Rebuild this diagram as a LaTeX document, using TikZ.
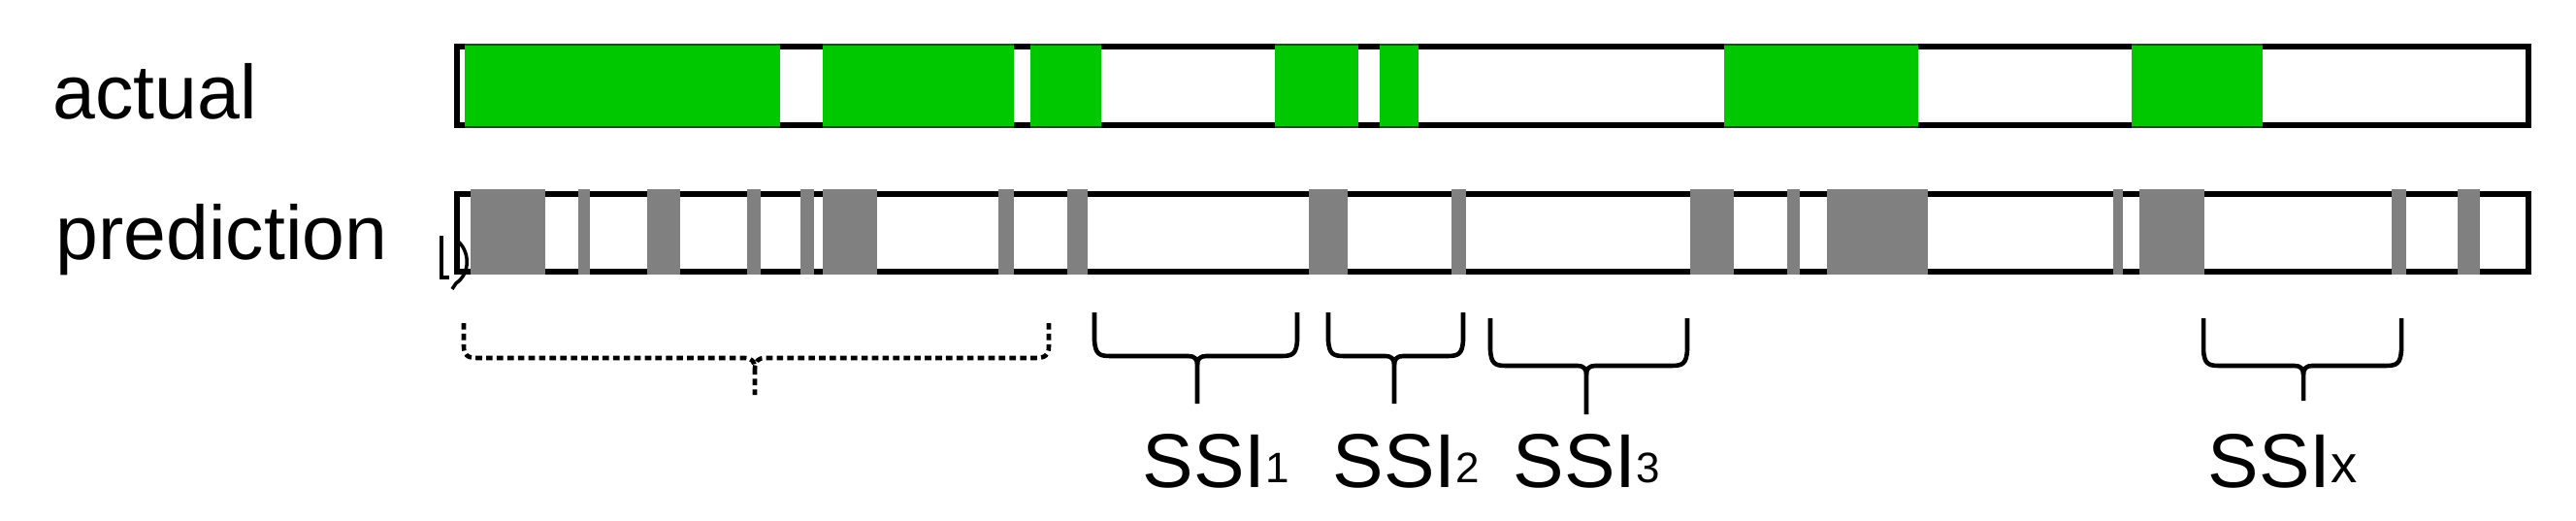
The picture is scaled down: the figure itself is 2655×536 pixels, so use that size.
\documentclass[tikz,border=0pt]{standalone}
\usepackage{fontspec}
\setmainfont{Liberation Sans}
\usetikzlibrary{positioning}

\definecolor{hitgreen}{RGB}{0,200,0}
\definecolor{hitedge}{RGB}{0,95,0}
\definecolor{callgray}{RGB}{128,128,128}

\newcommand{\siteidx}[2][12.5]{{\fontsize{#1}{#1}\selectfont\raisebox{1.2pt}{#2}}}

\begin{document}
\begin{tikzpicture}[x=0.01cm, y=-0.01cm,
    track/.style={draw=black, line width=1.6pt, fill=white},
    rowlabel/.style={anchor=base west, inner sep=0, font=\fontsize{22.4}{26}\selectfont},
    bracket/.style={line width=1.3pt, line join=round}]
    \useasboundingbox (0,0) rectangle (2655,536);

    % row labels
    \node[rowlabel] (actual) at (54,122) {actual};
    \node[rowlabel] (prediction) at (57,267) {prediction};

    % the two tracks
    \draw[track] (471,48) rectangle (2606,129);
    \draw[track] (471,200) rectangle (2606,280);

    % actual sites
    \foreach \a/\b in {479/804, 848/1045, 1062/1135, 1314/1400, 1422/1462, 1777/1977, 2197/2332} {
        \fill[hitgreen] (\a,45) rectangle (\b,132);
        \draw[hitedge, line width=0.6pt] (\a,46) -- (\b,46) (\a,131) -- (\b,131);
    }

    % predicted sites
    \foreach \a/\b in {485/562, 596/608, 667/701, 770/784, 825/839, 848/904, 1029/1045, 1100/1121,
                       1349/1389, 1496/1511, 1742/1787, 1842/1855, 1883/1987, 2178/2188, 2205/2272,
                       2465/2480, 2533/2556}
        \fill[callgray] (\a,195) rectangle (\b,283);

    % stray bracket piece at the left end
    \draw[line width=1.1pt] (455,243) -- (455,286) -- (463,286);
    \draw[line width=1pt] (470,247) .. controls (485,258) and (485,282) .. (470,292) -- (466,298);

    % dotted bracket
    \draw[bracket, dash pattern=on 1.9pt off 1.2pt]
        (478,333) -- (478,357) .. controls (478,366) and (482,369) .. (492,369) -- (768,369)
        .. controls (774,369) and (778,372) .. (778,380) -- (778,407);
    \draw[bracket, dash pattern=on 1.9pt off 1.2pt]
        (1081,333) -- (1081,357) .. controls (1081,366) and (1077,369) .. (1067,369) -- (788,369)
        .. controls (782,369) and (778,372) .. (778,380);

    % brackets over the gaps
    \foreach \l/\c/\r/\t/\h/\s/\n/\tx/\sub in {1128/1234/1337/322/367/416/ssione/1177/{\siteidx{1}},
                                         1369/1437/1508/322/367/416/ssitwo/1373/{\siteidx{2}},
                                         1536/1635/1739/328/377/427/ssithree/1559/{\siteidx{3}},
                                         2271/2374/2475/328/377/413/ssix/2275/{\siteidx[15.5]{x}}} {
        \draw[bracket] (\l,\t) -- (\l,\h-16) .. controls (\l+1,\h-3) and (\l+4,\h) .. (\l+16,\h)
            -- (\c-9,\h) .. controls (\c-3,\h) and (\c,\h+3) .. (\c,\h+9) -- (\c,\s);
        \draw[bracket] (\r,\t) -- (\r,\h-16) .. controls (\r-1,\h-3) and (\r-4,\h) .. (\r-16,\h)
            -- (\c+9,\h) .. controls (\c+3,\h) and (\c,\h+3) .. (\c,\h+9);
        \node[rowlabel] (\n) at (\tx,502) {SSI\sub};
    }
\end{tikzpicture}
\end{document}
